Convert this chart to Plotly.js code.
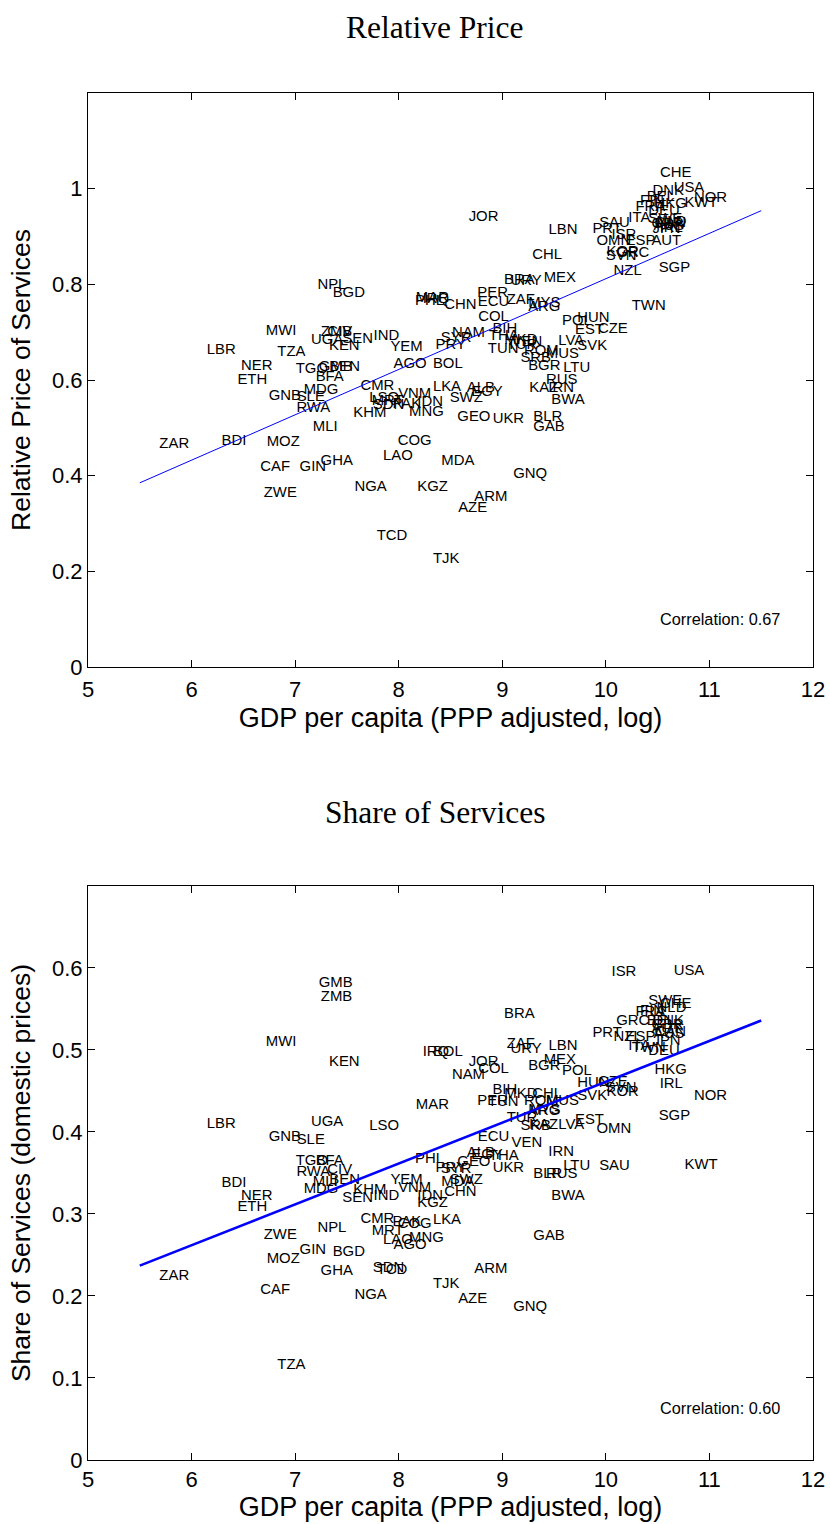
<!DOCTYPE html>
<html>
<head>
<meta charset="utf-8">
<script src="https://cdn.plot.ly/plotly-3.0.1.min.js"></script>
<style>html,body{margin:0;padding:0;background:#fff;}#chart{width:830px;height:1524px;}</style>
</head>
<body>
<div id="chart"></div>
<script>
// Country codes
const countries = ["ZAR","BDI","LBR","NER","ETH","MWI","TZA","MOZ","CAF","ZWE","GNB","SLE","RWA","TGO","GIN","MDG","UGA","MLI","BFA","NPL","GMB","GHA","ZMB","CIV","KEN","BEN","BGD","SEN","KHM","NGA","CMR","LSO","MRT","SDN","IND","TCD","LAO","YEM","PAK","AGO","COG","VNM","MNG","PHL","MAR","IDN","KGZ","IRQ","BOL","LKA","TJK","PRY","SYR","MDA","CHN","SWZ","NAM","GEO","AZE","ALB","JOR","EGY","ARM","PER","ECU","COL","THA","TUN","BIH","UKR","BRA","MKD","ZAF","TUR","URY","VEN","GNQ","SRB","ROM","BGR","MYS","ARG","KAZ","CHL","BLR","GAB","MEX","RUS","MUS","LBN","IRN","BWA","LVA","POL","LTU","EST","SVK","HUN","PRT","OMN","CZE","SAU","SVN","KOR","ISR","NZL","GRC","ESP","ITA","TWN","FRA","FIN","BEL","DEU","SWE","DNK","AUT","HKG","GBR","AUS","JPN","SGP","CHE","NLD","IRL","CAN","USA","KWT","NOR"];
// GDP per capita (PPP adjusted, log)
const gdpLog = [5.689,6.29,6.146,6.477,6.443,6.717,6.828,6.725,6.664,6.697,6.744,7.015,7.012,7.006,7.043,7.082,7.152,7.17,7.198,7.215,7.227,7.246,7.248,7.31,7.327,7.33,7.362,7.456,7.561,7.573,7.63,7.715,7.739,7.75,7.757,7.787,7.848,7.92,7.94,7.95,7.99,7.995,8.1,8.157,8.165,8.18,8.18,8.231,8.33,8.33,8.33,8.355,8.407,8.411,8.44,8.492,8.514,8.566,8.574,8.658,8.675,8.70,8.73,8.759,8.763,8.768,8.87,8.86,8.905,8.907,9.017,9.02,9.043,9.043,9.08,9.09,9.105,9.175,9.21,9.25,9.25,9.25,9.26,9.29,9.3,9.3,9.4,9.423,9.42,9.447,9.444,9.473,9.54,9.577,9.588,9.702,9.725,9.725,9.87,9.91,9.924,9.935,10.0,10.007,10.055,10.075,10.1,10.19,10.217,10.25,10.286,10.33,10.394,10.41,10.41,10.45,10.44,10.47,10.44,10.46,10.45,10.51,10.523,10.49,10.52,10.47,10.655,10.76,10.85];
// Relative price of services
const relPrice = [0.466,0.4725,0.663,0.628,0.600,0.702,0.657,0.470,0.417,0.364,0.567,0.564,0.541,0.623,0.417,0.579,0.684,0.501,0.606,0.799,0.626,0.431,0.699,0.699,0.671,0.626,0.781,0.685,0.530,0.375,0.586,0.562,0.555,0.548,0.692,0.274,0.440,0.668,0.550,0.633,0.471,0.571,0.532,0.765,0.771,0.553,0.375,0.768,0.633,0.585,0.226,0.673,0.687,0.431,0.757,0.562,0.698,0.523,0.332,0.583,0.941,0.575,0.355,0.781,0.762,0.732,0.691,0.664,0.705,0.518,0.808,0.682,0.767,0.672,0.806,0.678,0.4035,0.645,0.659,0.629,0.760,0.752,0.583,0.861,0.523,0.501,0.813,0.600,0.654,0.912,0.583,0.557,0.680,0.722,0.625,0.703,0.670,0.729,0.916,0.891,0.706,0.928,0.858,0.868,0.903,0.827,0.865,0.889,0.939,0.755,0.962,0.973,0.983,0.953,0.935,0.995,0.889,0.967,0.925,0.922,0.915,0.834,1.032,0.930,0.918,0.928,1.001,0.969,0.980];
// Share of services (domestic prices)
const servShare = [0.2236,0.338,0.4098,0.322,0.308,0.51,0.116,0.245,0.2065,0.2744,0.3935,0.390,0.3504,0.3638,0.256,0.330,0.4114,0.339,0.3646,0.2825,0.5817,0.2296,0.5646,0.3537,0.4854,0.3415,0.253,0.319,0.329,0.201,0.2935,0.4065,0.2784,0.2337,0.321,0.231,0.2674,0.3415,0.2894,0.262,0.288,0.331,0.270,0.3667,0.433,0.322,0.313,0.4967,0.4976,0.2927,0.2146,0.356,0.3545,0.339,0.326,0.3406,0.4687,0.3626,0.196,0.374,0.4845,0.371,0.233,0.437,0.394,0.4765,0.370,0.436,0.451,0.3557,0.544,0.446,0.507,0.4167,0.501,0.386,0.1866,0.4065,0.437,0.480,0.427,0.425,0.4085,0.446,0.349,0.273,0.487,0.349,0.438,0.504,0.375,0.322,0.4085,0.4735,0.358,0.414,0.443,0.460,0.520,0.403,0.461,0.3585,0.453,0.449,0.595,0.515,0.535,0.515,0.504,0.502,0.5455,0.547,0.535,0.499,0.560,0.5345,0.525,0.4756,0.530,0.5195,0.511,0.4187,0.556,0.551,0.458,0.522,0.5955,0.36,0.443];
// Fitted lines
const fitX = [5.5, 11.5];
const fitPrice = [0.385, 0.954];
const fitShare = [0.237, 0.536];
// Ticks
const xTicks = [5,6,7,8,9,10,11,12];
const priceTicks = [0,0.2,0.4,0.6,0.8,1];
const shareTicks = [0,0.1,0.2,0.3,0.4,0.5,0.6];
const corrPrice = "Correlation: 0.67";
const corrShare = "Correlation: 0.60";

const sans = "Liberation Sans, Arial, Helvetica, sans-serif";
const serif = "Liberation Serif, Times New Roman, serif";
const labelFont = {family: sans, size: 14.9, color: "#000"};

const traces = [
  {x: gdpLog, y: relPrice, text: countries, mode: "text", type: "scatter",
   textposition: "middle right", textfont: labelFont, xaxis: "x", yaxis: "y", hoverinfo: "skip", cliponaxis: false},
  {x: fitX, y: fitPrice, mode: "lines", type: "scatter", line: {color: "#0000ff", width: 1},
   xaxis: "x", yaxis: "y", hoverinfo: "skip"},
  {x: gdpLog, y: servShare, text: countries, mode: "text", type: "scatter",
   textposition: "middle right", textfont: labelFont, xaxis: "x2", yaxis: "y2", hoverinfo: "skip", cliponaxis: false},
  {x: fitX, y: fitShare, mode: "lines", type: "scatter", line: {color: "#0000ff", width: 2.6},
   xaxis: "x2", yaxis: "y2", hoverinfo: "skip"}
];

function xAxis(anchor, labelGap, titleGap) {
  return {
    anchor: anchor, range: [5, 12], tickvals: xTicks, ticktext: xTicks.map(String),
    showgrid: false, zeroline: false, showline: true, linecolor: "#000", linewidth: 1,
    mirror: "ticks", ticks: "inside", ticklen: 7, tickcolor: "#000",
    ticklabelstandoff: labelGap,
    tickfont: {family: sans, size: 22, color: "#000"},
    title: {text: "GDP per capita (PPP adjusted, log)", font: {family: sans, size: 27, color: "#000"}, standoff: titleGap}
  };
}
function yAxis(anchor, domain, range, ticks, title) {
  return {
    anchor: anchor, domain: domain, range: range, tickvals: ticks, ticktext: ticks.map(String),
    showgrid: false, zeroline: false, showline: true, linecolor: "#000", linewidth: 1,
    mirror: "ticks", ticks: "inside", ticklen: 7, tickcolor: "#000",
    tickfont: {family: sans, size: 22, color: "#000"},
    title: {text: title, font: {family: sans, size: 26.5, color: "#000"}, standoff: 13}
  };
}

const layout = {
  width: 830, height: 1524,
  margin: {l: 88, r: 17, t: 93, b: 64},
  paper_bgcolor: "#fff", plot_bgcolor: "#fff",
  showlegend: false,
  xaxis: xAxis("y", 3, 6),
  yaxis: yAxis("x", [0.5801, 1], [0, 1.2], priceTicks, "Relative Price of Services"),
  xaxis2: xAxis("y2", 0, 1),
  yaxis2: yAxis("x2", [0, 0.4199], [0, 0.7], shareTicks, "Share of Services (domestic prices)"),
  annotations: [
    {text: "Relative Price", xref: "paper", yref: "paper", x: 0.479, y: 1.0476,
     xanchor: "center", yanchor: "middle", showarrow: false, font: {family: serif, size: 31.5, color: "#000"}},
    {text: "Share of Services", xref: "paper", yref: "paper", x: 0.479, y: 0.4733,
     xanchor: "center", yanchor: "middle", showarrow: false, font: {family: serif, size: 31.5, color: "#000"}},
    {text: corrPrice, xref: "x", yref: "y", x: 10.5, y: 0.1, xanchor: "left", yanchor: "middle",
     showarrow: false, font: {family: sans, size: 16.3, color: "#000"}},
    {text: corrShare, xref: "x2", yref: "y2", x: 10.5, y: 0.0634, xanchor: "left", yanchor: "middle",
     showarrow: false, font: {family: sans, size: 16.3, color: "#000"}}
  ]
};

Plotly.newPlot("chart", traces, layout, {staticPlot: true, displayModeBar: false});
</script>
</body>
</html>
